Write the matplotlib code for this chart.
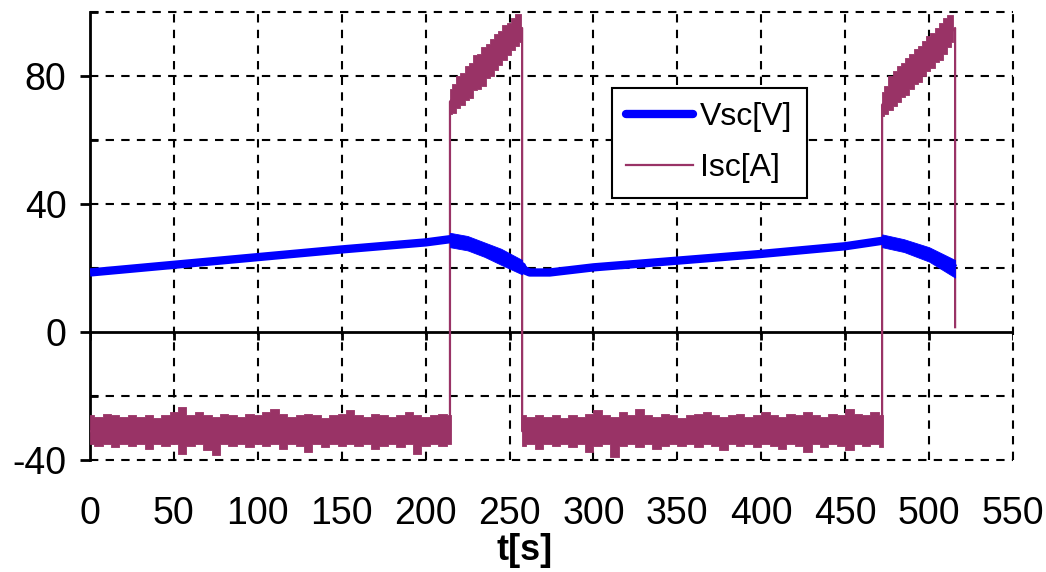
import matplotlib
matplotlib.use("Agg")
import matplotlib.pyplot as plt
from matplotlib.lines import Line2D
import numpy as np

plt.rcParams['font.family'] = ['Liberation Sans', 'DejaVu Sans']
plt.rcParams['axes.unicode_minus'] = False

BLUE = '#0000ff'
PLUM = '#993366'

# --- Vsc[V], centre line
vsc_t = [0, 50, 100, 150, 200, 214.5, 225, 235, 245, 257.5, 258, 262, 274, 300, 350, 400, 450, 472, 485, 500, 515.5]
vsc = [18.6, 21.0, 23.4, 25.8, 28.0, 29.0, 27.8, 25.8, 23.5, 20.5, 19.5, 18.6, 18.6, 20.2, 22.3, 24.4, 26.8, 28.5, 27.0, 24.3, 19.8]

# ripple envelope of Vsc while discharging
vd1_t = [214.5, 225, 235, 245, 257.5]
vd1_hi = [31.0, 30.0, 28.0, 26.0, 22.5]
vd1_lo = [26.5, 25.5, 23.5, 21.0, 18.0]
vd2_t = [472, 485, 500, 515.5]
vd2_hi = [30.5, 29.0, 26.5, 22.5]
vd2_lo = [26.5, 25.0, 22.0, 17.0]

# --- Isc[A], switching path
isc_t = [0, 214.5, 214.5, 257.5, 257.5, 472, 472, 515.5, 515.5]
isc = [-31, -31, 72, 95, -31, -31, 71, 95, 1.5]

# noise band of Isc, charging (5 s samples)
low1_t = np.arange(0, 216, 5)
low1_hi = [-26, -26.5, -25.5, -26, -26.5, -26, -26.5, -26, -27, -26, -25,
           -23.5, -26, -25, -26, -26.5, -25.5, -26, -26.5, -25.5, -26, -25,
           -24, -25.5, -26.5, -26, -25.5, -26, -27, -26, -25.5, -24.5, -26,
           -26.5, -25.5, -26, -26.5, -26, -25, -26, -26.5, -26, -25.5, -26]
low1_lo = [-35, -35.5, -35, -36, -35, -35.5, -35, -36.5, -35, -35.5, -35,
           -38, -35.5, -35, -37, -38.5, -35, -35.5, -35, -36, -35, -35.5,
           -35, -36.5, -35, -35.5, -37.5, -35, -36, -35, -35.5, -35, -35.5,
           -35, -36.5, -35.5, -35, -36, -35, -38, -35.5, -35, -35.5, -35]
low2_t = np.arange(257.5, 473, 5)
low2_hi = [-26, -26.5, -26, -26.5, -26, -27, -26, -26.5, -25.5, -24.5, -26,
           -26.5, -25, -26, -24, -26, -26.5, -25.5, -26, -27, -26, -25.5,
           -25, -26, -26.5, -26, -25.5, -26.5, -26, -25, -26, -26.5, -25.5,
           -26, -25, -26, -26.5, -25.5, -26, -24, -25.5, -26, -25, -26]
low2_lo = [-35.5, -35, -36.5, -35, -35.5, -35, -36, -35, -37.5, -35.5, -35,
           -39, -35.5, -35, -36, -35, -36.5, -35.5, -35, -35.5, -35, -36,
           -35, -35.5, -37, -35, -35.5, -35, -36, -35, -35.5, -36.5, -35,
           -35.5, -37.5, -35, -36, -35, -35.5, -37, -35, -35.5, -35, -36]

# noise band of Isc, discharging (2.5 s samples)
high1_t = np.arange(214.5, 258, 2.5)
high1_hi = [76, 77.5, 80, 81, 83, 84, 86.5, 87, 89, 90, 91.5, 93, 94, 96, 96.5, 98, 99.5, 99.5]
high1_lo = [68, 68.5, 70, 71, 72.5, 73, 75.5, 76, 77, 79.5, 80, 82, 83.5, 85, 86.5, 88, 89.5, 90.5]
high2_t = np.arange(472, 516, 2.5)
high2_hi = [75, 77, 80, 81.5, 83, 84, 85.5, 87, 88.5, 89.5, 91, 92.5, 93.5, 95, 96.5, 98, 99, 99]
high2_lo = [67.5, 68, 69.5, 70.5, 72, 73.5, 74, 76, 77.5, 78, 80, 81.5, 82.5, 84.5, 85, 87, 89, 90.5]

x_ticks = [0, 50, 100, 150, 200, 250, 300, 350, 400, 450, 500, 550]
y_ticks = [-40, 0, 40, 80]

fig = plt.figure(figsize=(10.46, 5.72), dpi=100)
ax = fig.add_axes([90 / 1046, 112 / 572, 923 / 1046, 448 / 572])
ax.set_xlim(0, 550)
ax.set_ylim(-40, 100)

# grid
dash = (0, (4, 3.5))
for x in x_ticks[1:]:
    ax.axvline(x, color='black', lw=1.5, ls=dash, zorder=1, clip_on=False)
for y in range(-40, 101, 20):
    if y != 0:
        ax.axhline(y, color='black', lw=1.5, ls=dash, zorder=1, clip_on=False)
ax.axhline(0, color='black', lw=2, zorder=2)
ax.vlines(x_ticks, -2.5, 0, color='black', lw=2, zorder=2)

# current
ax.plot(isc_t, isc, color=PLUM, lw=1.6, zorder=3)
for t, hi, lo in [(low1_t, low1_hi, low1_lo), (low2_t, low2_hi, low2_lo),
                  (high1_t, high1_hi, high1_lo), (high2_t, high2_hi, high2_lo)]:
    ax.fill_between(t, lo, hi, step='mid', facecolor=PLUM, edgecolor=PLUM, lw=0.6, zorder=3)

# voltage
ax.plot(vsc_t, vsc, color=BLUE, lw=6, solid_capstyle='butt', zorder=4)
for t, hi, lo in [(vd1_t, vd1_hi, vd1_lo), (vd2_t, vd2_hi, vd2_lo)]:
    ax.fill_between(t, lo, hi, facecolor=BLUE, edgecolor=BLUE, lw=0.6, zorder=4)

for s in ['top', 'right', 'bottom']:
    ax.spines[s].set_visible(False)
ax.spines['left'].set_linewidth(2)

ax.set_xticks(x_ticks)
ax.set_yticks(y_ticks)
ax.set_yticks([-20, 20, 60, 100], minor=True)
ax.tick_params(axis='x', length=0, pad=26, labelsize=27)
ax.tick_params(axis='y', which='major', direction='out', length=7, width=2, pad=10, labelsize=27)
ax.tick_params(axis='y', which='minor', direction='in', length=6, width=2)

fig.text(525 / 1046, 1 - 550 / 572, 't[s]', fontsize=26, fontweight='bold',
         ha='center', va='center')

handles = [Line2D([], [], color=BLUE, lw=6, solid_capstyle='round'),
           Line2D([], [], color=PLUM, lw=1.6)]
leg = ax.legend(handles, ['Vsc[V]', 'Isc[A]'], loc='upper left',
                bbox_to_anchor=(612 / 1046, 1 - 88 / 572), bbox_transform=fig.transFigure,
                fancybox=False, framealpha=1, edgecolor='black', fontsize=23,
                handlelength=2.1, handletextpad=0.2, borderpad=0.45, labelspacing=0.65,
                borderaxespad=0)
leg.get_frame().set_linewidth(1.5)
leg.set_zorder(10)

fig.savefig('out.png', dpi=100, facecolor='white')
